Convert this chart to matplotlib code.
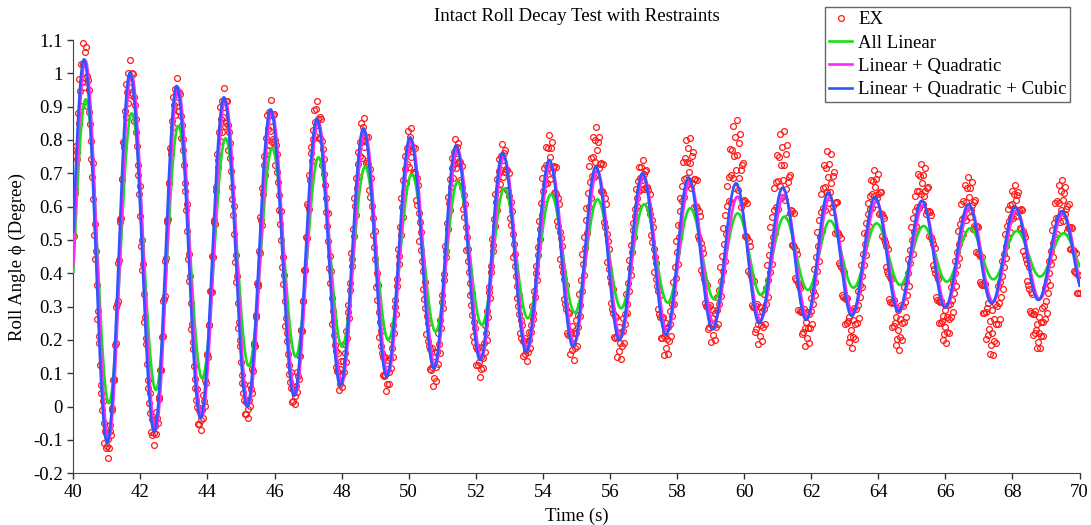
import numpy as np
import matplotlib
matplotlib.use("Agg")
import matplotlib.pyplot as plt
from matplotlib.ticker import FuncFormatter

# ---------------- data ----------------
title = "Intact Roll Decay Test with Restraints"
x_label = "Time (s)"
y_label = "Roll Angle ϕ (Degree)"
series_names = ["EX", "All Linear", "Linear + Quadratic", "Linear + Quadratic + Cubic"]

# times of troughs / peaks (s) of the oscillation (first trough is just before 40 s, last just after 70 s)
trough_t = [39.62, 41.01, 42.41, 43.79, 45.18, 46.58, 47.96, 49.34, 50.75, 52.13, 53.50, 54.90,
            56.28, 57.67, 59.06, 60.45, 61.85, 63.21, 64.60, 65.99, 67.38, 68.77, 70.16]
peak_t = [40.32, 41.69, 43.08, 44.49, 45.88, 47.26, 48.65, 50.04, 51.41, 52.80, 54.19,
          55.58, 56.97, 58.34, 59.76, 61.15, 62.51, 63.90, 65.30, 66.69, 68.08, 69.47]

# Linear + Quadratic + Cubic (blue)
lqc_trough = [-0.15, -0.11, -0.075, -0.035, 0.0, 0.032, 0.063, 0.09, 0.115, 0.14, 0.165, 0.18,
              0.20, 0.215, 0.232, 0.25, 0.26, 0.272, 0.285, 0.297, 0.31, 0.32, 0.33]
lqc_peak = [1.042, 1.002, 0.962, 0.928, 0.892, 0.862, 0.835, 0.808, 0.783, 0.762, 0.74,
            0.72, 0.70, 0.687, 0.67, 0.657, 0.642, 0.628, 0.618, 0.607, 0.598, 0.587]
lqc_lag = 0.0

# Linear + Quadratic (magenta)
lq_trough = [-0.14, -0.10, -0.07, -0.03, 0.005, 0.037, 0.07, 0.097, 0.122, 0.147, 0.17, 0.19,
             0.208, 0.225, 0.25, 0.26, 0.268, 0.28, 0.29, 0.30, 0.315, 0.322, 0.33]
lq_peak = [1.038, 0.998, 0.958, 0.92, 0.885, 0.855, 0.825, 0.798, 0.773, 0.75, 0.728,
           0.708, 0.69, 0.675, 0.63, 0.635, 0.628, 0.615, 0.605, 0.598, 0.588, 0.58]
lq_lag = 0.04

# All Linear (green)
lin_trough = [-0.03, 0.01, 0.05, 0.085, 0.122, 0.15, 0.18, 0.20, 0.225, 0.245, 0.265, 0.282,
              0.295, 0.312, 0.322, 0.335, 0.35, 0.357, 0.365, 0.375, 0.382, 0.39, 0.395]
lin_peak = [0.922, 0.88, 0.842, 0.805, 0.775, 0.748, 0.72, 0.698, 0.675, 0.655, 0.637,
            0.622, 0.607, 0.595, 0.58, 0.57, 0.558, 0.55, 0.542, 0.535, 0.527, 0.52]
lin_lag = 0.05

# EX (measured): cluster centre and half-spread at each trough / peak
ex_trough = [-0.15, -0.12, -0.08, -0.04, -0.01, 0.03, 0.09, 0.09, 0.11, 0.13, 0.17, 0.19,
             0.19, 0.20, 0.24, 0.24, 0.23, 0.23, 0.23, 0.24, 0.22, 0.22, 0.30]
ex_peak = [1.03, 0.99, 0.94, 0.90, 0.86, 0.87, 0.81, 0.78, 0.76, 0.74, 0.75,
           0.77, 0.70, 0.74, 0.76, 0.73, 0.69, 0.66, 0.67, 0.63, 0.62, 0.62]
ex_trough_spread = [0.04, 0.035, 0.035, 0.035, 0.03, 0.03, 0.045, 0.045, 0.05, 0.04, 0.035, 0.05,
                    0.05, 0.05, 0.05, 0.055, 0.05, 0.055, 0.06, 0.05, 0.07, 0.05, 0.04]
ex_peak_spread = [0.07, 0.05, 0.045, 0.055, 0.06, 0.05, 0.06, 0.06, 0.045, 0.05, 0.065,
                  0.07, 0.04, 0.07, 0.10, 0.10, 0.08, 0.05, 0.06, 0.06, 0.045, 0.06]
ex_rate = 50.0  # samples per second
ex_levels = [0.0, -1.0, 0.5, -0.5, 1.0]  # positions across the measured cloud (fraction of half-spread)

x_ticks = np.arange(40, 71, 2)
y_ticks = np.round(np.arange(-0.2, 1.1001, 0.1), 1)


# ---------------- helpers ----------------
def interleave(tr, pk):
    out = []
    for i in range(len(pk)):
        out += [tr[i], pk[i]]
    out.append(tr[-1])
    return np.array(out, dtype=float)


def smooth_through(te, ve, t):
    idx = np.clip(np.searchsorted(te, t, side="right") - 1, 0, len(te) - 2)
    t0, t1 = te[idx], te[idx + 1]
    s = np.clip((t - t0) / (t1 - t0), 0, 1)
    w = (1 - np.cos(np.pi * s)) / 2
    return ve[idx] + (ve[idx + 1] - ve[idx]) * w


ext_t = interleave(trough_t, peak_t)
t_line = np.linspace(40, 70, 3001)

# ---------------- figure ----------------
plt.rcParams["font.family"] = ["Liberation Serif", "DejaVu Serif"]
plt.rcParams["axes.unicode_minus"] = False

fig = plt.figure(figsize=(10.91, 5.25), dpi=100)
ax = fig.add_axes([0.0672, 0.0985, 0.9223, 0.8253])

# EX scatter: samples spread across the measured cloud
t_ex = np.arange(40, 70 + 1e-9, 1.0 / ex_rate)
ex_c = smooth_through(ext_t, interleave(ex_trough, ex_peak), t_ex)
ex_s = smooth_through(ext_t, interleave(ex_trough_spread, ex_peak_spread), t_ex)
lev = np.array(ex_levels)[np.arange(len(t_ex)) % len(ex_levels)]
ex_v = ex_c + lev * ex_s
ax.plot(t_ex, ex_v, linestyle="none", marker="o", markersize=4.2, markerfacecolor="none",
        markeredgecolor="#ff1a1a", markeredgewidth=0.9, label=series_names[0], zorder=2)

ax.plot(t_line, smooth_through(ext_t + lin_lag, interleave(lin_trough, lin_peak), t_line),
        color="#18e018", lw=1.9, label=series_names[1], zorder=3)
ax.plot(t_line, smooth_through(ext_t + lq_lag, interleave(lq_trough, lq_peak), t_line),
        color="#ff28ff", lw=1.9, label=series_names[2], zorder=4)
ax.plot(t_line, smooth_through(ext_t + lqc_lag, interleave(lqc_trough, lqc_peak), t_line),
        color="#2f55ff", lw=1.9, label=series_names[3], zorder=5)

ax.set_xlim(40, 70)
ax.set_ylim(-0.2, 1.1)
ax.set_xticks(x_ticks)
ax.set_yticks(y_ticks)
ax.yaxis.set_major_formatter(FuncFormatter(lambda v, p: "%g" % round(v, 1)))
ax.tick_params(direction="out", length=4, width=1, colors="#333333", labelcolor="black",
               labelsize=13.5)
for side in ("top", "right"):
    ax.spines[side].set_visible(False)
for side in ("left", "bottom"):
    ax.spines[side].set_color("#444444")

ax.set_xlabel(x_label, fontsize=13.5, labelpad=5)
ax.set_ylabel(y_label, fontsize=13.5, labelpad=5)
ax.set_title(title, fontsize=13.5, pad=14)

leg = fig.legend(loc="upper right", bbox_to_anchor=(0.981, 0.986), fontsize=13.5,
                 numpoints=1, handlelength=1.25, handletextpad=0.3, borderpad=0.2,
                 labelspacing=0.33, fancybox=False, framealpha=1, edgecolor="#666666",
                 borderaxespad=0)
leg.get_frame().set_linewidth(1.0)

fig.savefig("out.png", dpi=100)
